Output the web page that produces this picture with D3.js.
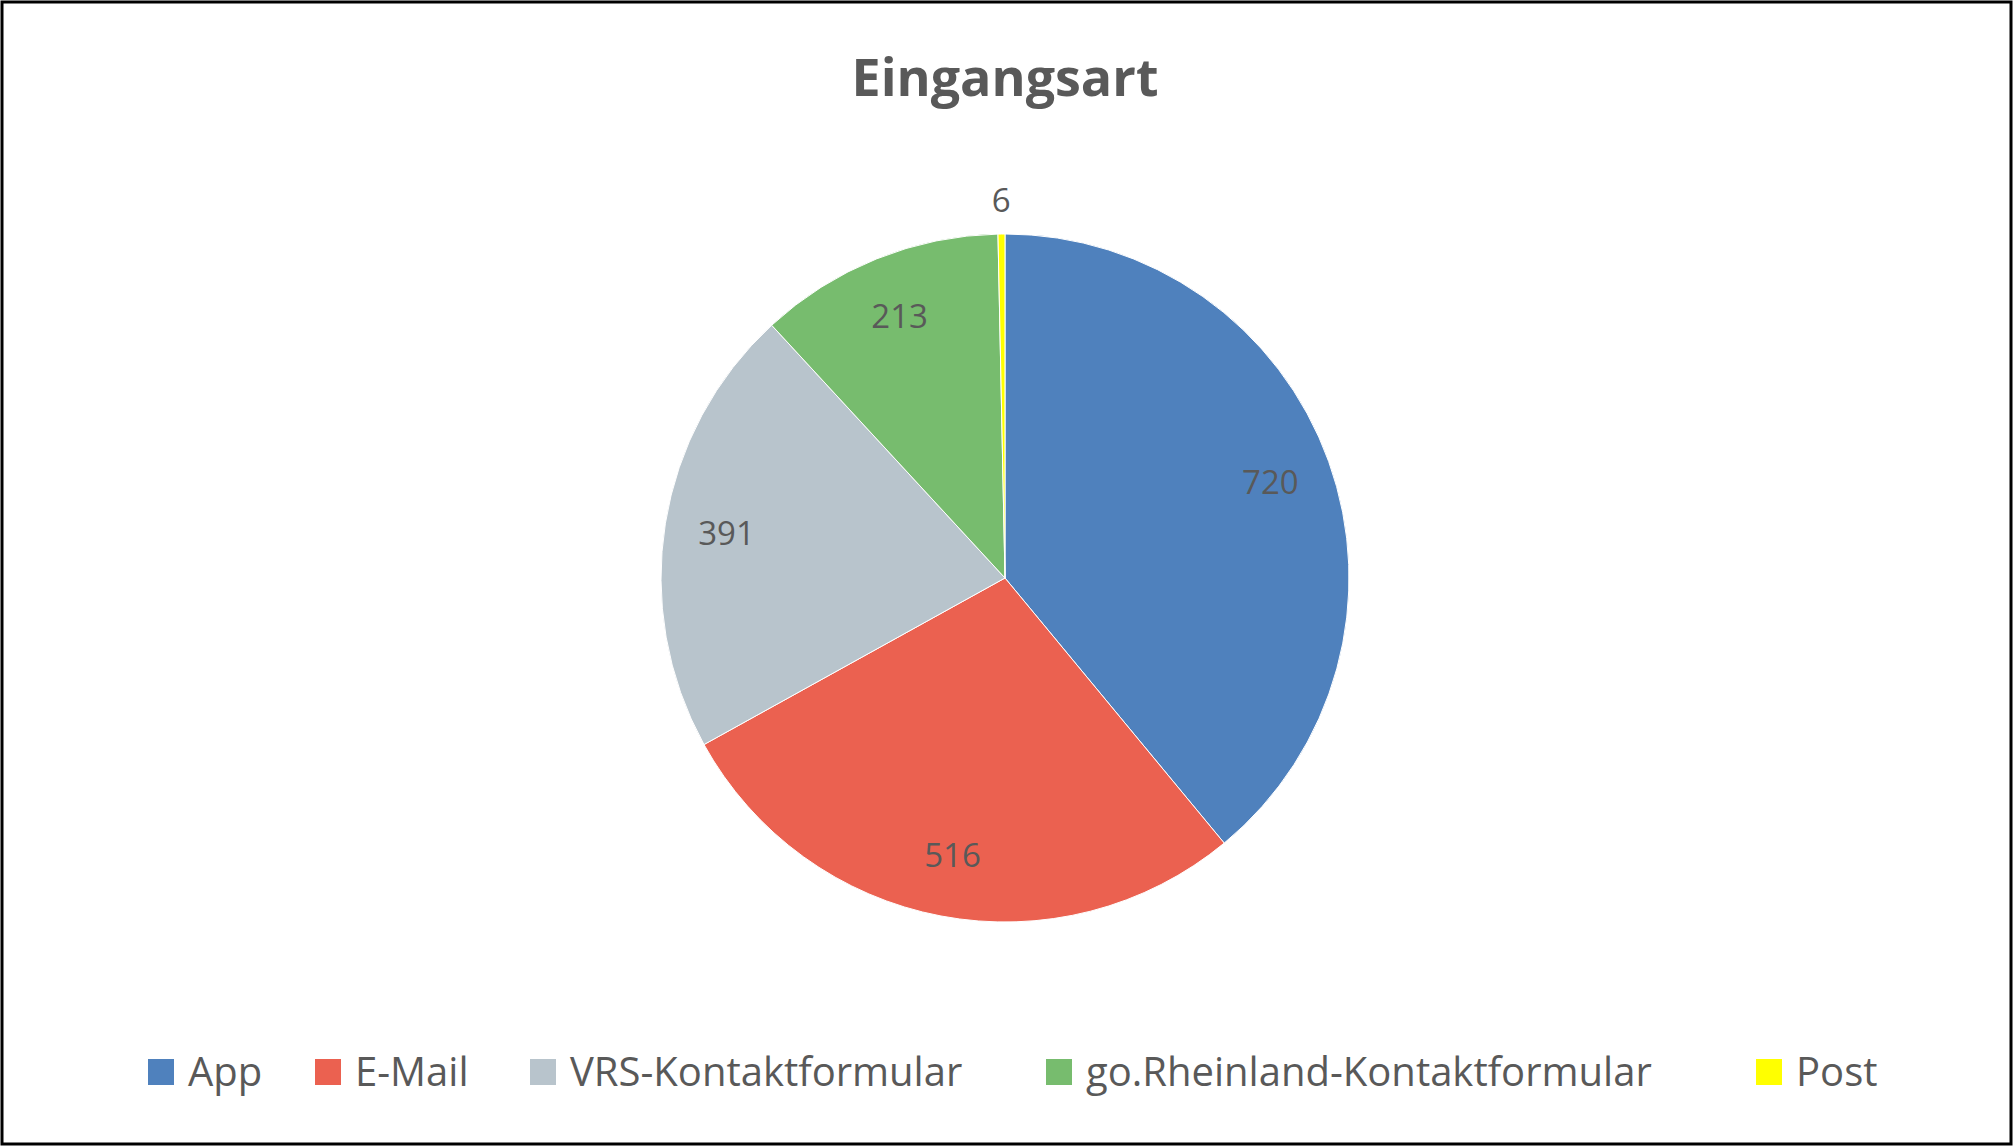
<!DOCTYPE html>
<html><head><meta charset="utf-8">
<script src="https://cdn.jsdelivr.net/npm/d3@7"></script>
<style>body{margin:0;background:#fff}</style>
</head><body>
<svg id="chart" width="2013" height="1146"></svg>
<script>
const categories = ["App", "E-Mail", "VRS-Kontaktformular", "go.Rheinland-Kontaktformular", "Post"]
const values = [720, 516, 391, 213, 6]
const colors = ["#4F81BD", "#EB6150", "#B8C4CC", "#77BC6E", "#FFFF00"]
const legendX = [148, 315, 530, 1046, 1756]

const svg = d3.select("#chart")
const font = "'Open Sans', 'Noto Sans', sans-serif"
const textColor = "#595959"

svg.append("rect").attr("x", 2).attr("y", 2).attr("width", 2009).attr("height", 1142)
   .attr("fill", "#fff").attr("stroke", "#000").attr("stroke-width", 3)

svg.append("text").attr("x", 1005).attr("y", 96).attr("text-anchor", "middle")
   .attr("font-family", font).attr("font-weight", "bold").attr("font-size", 52)
   .attr("fill", textColor).text("Eingangsart")

const cx = 1005, cy = 578, radius = 344
const pie = d3.pie().sort(null)
const arc = d3.arc().innerRadius(0).outerRadius(radius)
const labelArc = d3.arc().innerRadius(radius * 0.82).outerRadius(radius * 0.82)
const outerArc = d3.arc().innerRadius(radius + 34).outerRadius(radius + 34)

const g = svg.append("g").attr("transform", `translate(${cx},${cy})`)
const arcs = pie(values)

g.selectAll("path").data(arcs).enter().append("path")
 .attr("d", arc).attr("fill", (d, i) => colors[i])
 .attr("stroke", "#fff").attr("stroke-width", 1)

g.selectAll(".lbl").data(arcs).enter().append("text")
 .attr("class", "lbl")
 .attr("transform", d => `translate(${(d.data < 20 ? outerArc : labelArc).centroid(d)})`)
 .attr("text-anchor", "middle").attr("dy", "0.35em")
 .attr("font-family", font).attr("font-size", 33).attr("fill", textColor)
 .text(d => d.data)

const legend = svg.selectAll(".leg").data(categories).enter().append("g")
  .attr("transform", (d, i) => `translate(${legendX[i]},1072)`)
legend.append("rect").attr("x", 0).attr("y", -13).attr("width", 26).attr("height", 26)
  .attr("fill", (d, i) => colors[i])
legend.append("text").attr("x", 40).attr("dy", "0.35em")
  .attr("font-family", font).attr("font-size", 40).attr("fill", textColor).text(d => d)
</script>
</body></html>
